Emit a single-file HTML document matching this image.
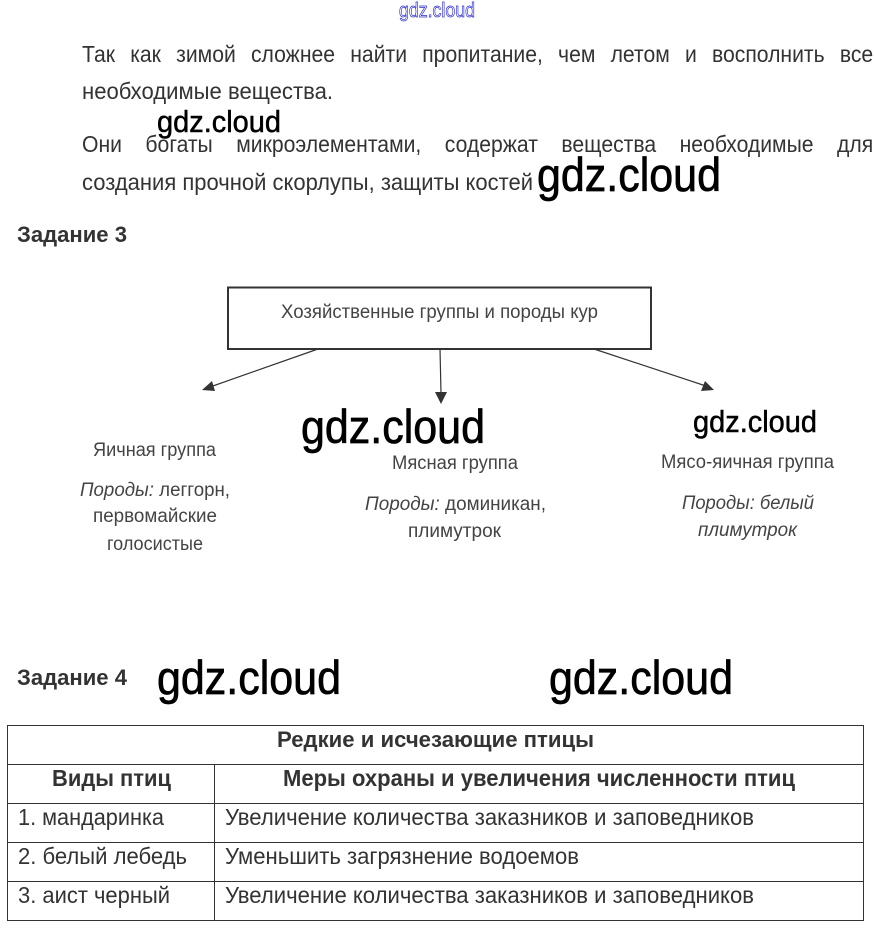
<!DOCTYPE html>
<html lang="ru"><head><meta charset="utf-8"><style>
html,body{margin:0;padding:0;background:#fff}
body{width:874px;height:933px;position:relative;overflow:hidden;font-family:"Liberation Sans",sans-serif}
svg{position:absolute;left:0;top:0}
.j{position:absolute;left:82px;width:860px;height:30px;line-height:30px;font-size:23px;color:#333;text-align:justify;text-align-last:justify;white-space:nowrap;transform:scaleX(.92);transform-origin:0 0;z-index:0}
text{font-family:"Liberation Sans",sans-serif;fill:#333}
.b{font-weight:bold}
.p{font-size:23px}
.d{font-size:19px;fill:#444}
.i{font-style:italic}
.w{fill:#000;stroke:#000;stroke-width:.5;font-family:"Liberation Sans",sans-serif}
.w2{fill:#000;stroke:#000;stroke-width:.7;font-family:"Liberation Sans",sans-serif}
</style></head><body>
<div class="j" style="top:39px">Так как зимой сложнее найти пропитание, чем летом и восполнить все</div>
<div class="j" style="top:129px">Они богаты микроэлементами, содержат вещества необходимые для</div>
<svg width="874" height="933" viewBox="0 0 874 933">
<text x="399" y="17" font-size="20" textLength="76" lengthAdjust="spacingAndGlyphs" style="fill:#fff;stroke:#2a2ad0;stroke-width:.7">gdz.cloud</text>
<text class="p" x="82" y="99" textLength="251" lengthAdjust="spacingAndGlyphs">необходимые вещества.</text>
<text class="p" x="82" y="190" textLength="451" lengthAdjust="spacingAndGlyphs">создания прочной скорлупы, защиты костей</text>
<text class="w" x="157" y="132" font-size="31" textLength="124" lengthAdjust="spacingAndGlyphs">gdz.cloud</text>
<text class="w2" x="537" y="191" font-size="47" textLength="184" lengthAdjust="spacingAndGlyphs">gdz.cloud</text>
<text class="b" x="17" y="242" font-size="22" textLength="110" lengthAdjust="spacingAndGlyphs">Задание 3</text>

<rect x="228" y="287.5" width="423" height="61.5" fill="none" stroke="#333" stroke-width="2"/>
<text class="d" x="281" y="318" textLength="317" lengthAdjust="spacingAndGlyphs">Хозяйственные группы и породы кур</text>
<g stroke="#333" stroke-width="1.2" fill="none">
<line x1="318" y1="349" x2="210" y2="387"/>
<line x1="440" y1="349" x2="441" y2="393"/>
<line x1="594" y1="349" x2="706" y2="386"/>
</g>
<g fill="#333">
<polygon points="202,390 212,381 215,391"/>
<polygon points="441,404 435,392 447,392"/>
<polygon points="714,390 701,391 705,381"/>
</g>
<text class="w2" x="301" y="443" font-size="47" textLength="184" lengthAdjust="spacingAndGlyphs">gdz.cloud</text>
<text class="w" x="693" y="432" font-size="31" textLength="124" lengthAdjust="spacingAndGlyphs">gdz.cloud</text>

<text class="d" x="93" y="456" textLength="123" lengthAdjust="spacingAndGlyphs">Яичная группа</text>
<text class="d" x="80" y="496" textLength="150" lengthAdjust="spacingAndGlyphs"><tspan class="i">Породы:</tspan> леггорн,</text>
<text class="d" x="93" y="522" textLength="124" lengthAdjust="spacingAndGlyphs">первомайские</text>
<text class="d" x="107" y="550" textLength="96" lengthAdjust="spacingAndGlyphs">голосистые</text>

<text class="d" x="392" y="469" textLength="126" lengthAdjust="spacingAndGlyphs">Мясная группа</text>
<text class="d" x="365" y="510" textLength="181" lengthAdjust="spacingAndGlyphs"><tspan class="i">Породы:</tspan> доминикан,</text>
<text class="d" x="408" y="537" textLength="93" lengthAdjust="spacingAndGlyphs">плимутрок</text>

<text class="d" x="661" y="468" textLength="173" lengthAdjust="spacingAndGlyphs">Мясо-яичная группа</text>
<text class="d i" x="682" y="509" textLength="132" lengthAdjust="spacingAndGlyphs">Породы: белый</text>
<text class="d i" x="698" y="536" textLength="99" lengthAdjust="spacingAndGlyphs">плимутрок</text>

<text class="b" x="17" y="685" font-size="22" textLength="110" lengthAdjust="spacingAndGlyphs">Задание 4</text>
<text class="w2" x="157" y="694" font-size="47" textLength="184" lengthAdjust="spacingAndGlyphs">gdz.cloud</text>
<text class="w2" x="549" y="694" font-size="47" textLength="184" lengthAdjust="spacingAndGlyphs">gdz.cloud</text>

<g stroke="#333" stroke-width="1" fill="none">
<rect x="7.5" y="725.5" width="856" height="195"/>
<line x1="7" y1="764.5" x2="864" y2="764.5"/>
<line x1="7" y1="803.5" x2="864" y2="803.5"/>
<line x1="7" y1="842.5" x2="864" y2="842.5"/>
<line x1="7" y1="881.5" x2="864" y2="881.5"/>
<line x1="214.5" y1="764" x2="214.5" y2="920"/>
</g>
<text class="b" x="277" y="747" font-size="22" textLength="317" lengthAdjust="spacingAndGlyphs">Редкие и исчезающие птицы</text>
<text class="b" x="52" y="786" font-size="23" textLength="119" lengthAdjust="spacingAndGlyphs">Виды птиц</text>
<text class="b" x="283" y="786" font-size="23" textLength="512" lengthAdjust="spacingAndGlyphs">Меры охраны и увеличения численности птиц</text>
<text class="p" x="18" y="825" textLength="146" lengthAdjust="spacingAndGlyphs">1. мандаринка</text>
<text class="p" x="225" y="825" textLength="529" lengthAdjust="spacingAndGlyphs">Увеличение количества заказников и заповедников</text>
<text class="p" x="18" y="864" textLength="169" lengthAdjust="spacingAndGlyphs">2. белый лебедь</text>
<text class="p" x="225" y="864" textLength="354" lengthAdjust="spacingAndGlyphs">Уменьшить загрязнение водоемов</text>
<text class="p" x="18" y="903" textLength="152" lengthAdjust="spacingAndGlyphs">3. аист черный</text>
<text class="p" x="225" y="903" textLength="529" lengthAdjust="spacingAndGlyphs">Увеличение количества заказников и заповедников</text>
</svg>
</body></html>
